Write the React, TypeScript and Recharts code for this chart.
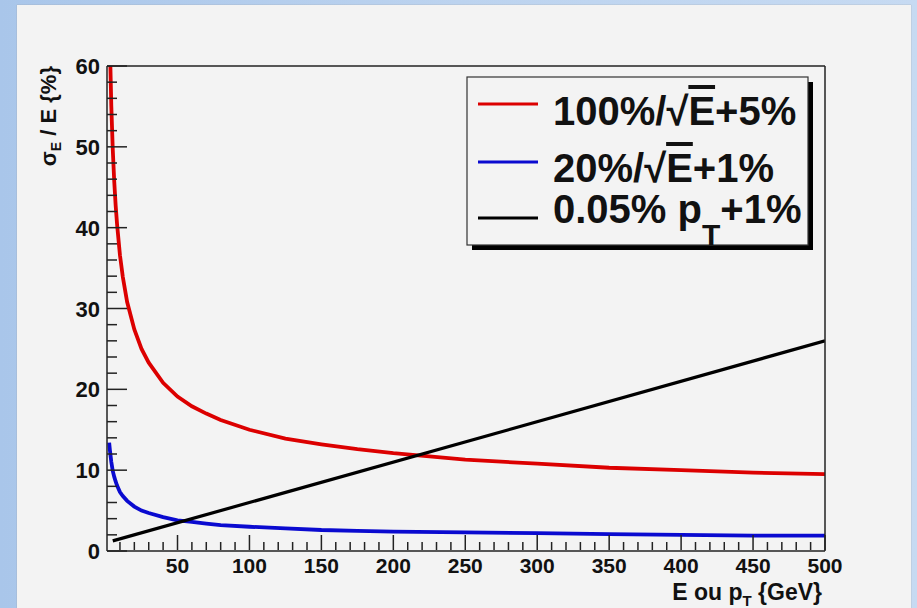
import React from "react";
import { LineChart, Line, XAxis, YAxis } from "recharts";

const energies = [2.5, 3, 4, 5, 6, 7, 8, 10, 12, 15, 20, 25, 30, 40, 50, 60, 70, 80, 100, 125, 150, 175, 200, 250, 300, 350, 400, 450, 500];
const caloHadValues = [68.2, 62.7, 55, 49.7, 45.8, 42.8, 40.4, 36.6, 33.9, 30.8, 27.4, 25, 23.3, 20.8, 19.1, 17.9, 17.0, 16.2, 15, 13.9, 13.2, 12.6, 12.1, 11.3, 10.8, 10.3, 10.0, 9.7, 9.5];
const caloEmValues = [13.4, 12.5, 11, 9.9, 9.2, 8.6, 8.1, 7.3, 6.8, 6.2, 5.5, 5, 4.7, 4.2, 3.8, 3.6, 3.4, 3.2, 3.0, 2.8, 2.6, 2.5, 2.4, 2.3, 2.2, 2.1, 2.0, 1.9, 1.9];

// tracker: straight line, read at both ends
const trackerMomenta = [5, 500];
const trackerValues = [1.25, 26];

const xTicks = [10, 20, 30, 40, 50, 60, 70, 80, 90, 100, 110, 120, 130, 140, 150, 160, 170, 180, 190, 200, 210, 220, 230, 240, 250, 260, 270, 280, 290, 300, 310, 320, 330, 340, 350, 360, 370, 380, 390, 400, 410, 420, 430, 440, 450, 460, 470, 480, 490, 500];
const yTicks = [0, 2, 4, 6, 8, 10, 12, 14, 16, 18, 20, 22, 24, 26, 28, 30, 32, 34, 36, 38, 40, 42, 44, 46, 48, 50, 52, 54, 56, 58, 60];

const FONT = "'Liberation Sans', Arial, Helvetica, sans-serif";
const AXIS_COLOR = "#222";

const series = [
  { id: "had", color: "#dc0000", width: 3.8, data: energies.map((e, i) => ({ e, v: caloHadValues[i] })) },
  { id: "em", color: "#0a0ad0", width: 3.8, data: energies.map((e, i) => ({ e, v: caloEmValues[i] })) },
  { id: "trk", color: "#000000", width: 3.2, data: trackerMomenta.map((e, i) => ({ e, v: trackerValues[i] })) },
];

function XTick(props: any) {
  const { x, payload } = props;
  const y = props.y - 1;
  const major = payload.value % 50 === 0;
  return (
    <g>
      <line x1={x} y1={y} x2={x} y2={y - (major ? 15 : 8)} stroke={AXIS_COLOR} strokeWidth={1.5} />
      {major && (
        <text x={x} y={y + 23} textAnchor="middle" fontFamily={FONT} fontWeight="bold" fontSize={21} fill="#111">
          {payload.value}
        </text>
      )}
    </g>
  );
}

function YTick(props: any) {
  const { x, y, payload } = props;
  const major = payload.value % 10 === 0;
  return (
    <g>
      <line x1={x} y1={y} x2={x + (major ? 20 : 10)} y2={y} stroke={AXIS_COLOR} strokeWidth={1.5} />
      {major && (
        <text x={x - 7} y={y + 8} textAnchor="end" fontFamily={FONT} fontWeight="bold" fontSize={22} fill="#111">
          {payload.value}
        </text>
      )}
    </g>
  );
}

function Overlay() {
  const t = { fontFamily: FONT, fontWeight: "bold" as const, fill: "#111" };
  return (
    <svg width={917} height={608} style={{ position: "absolute", left: 0, top: 0, pointerEvents: "none" }}>
      {/* y title */}
      <text transform="translate(56,66) rotate(-90)" textAnchor="end" fontSize={22} {...t}>
        σ<tspan fontSize={14} dy={5}>E</tspan>
        <tspan dy={-5}> / E {"{%}"}</tspan>
      </text>
      {/* x title */}
      <text x={822} y={600} textAnchor="end" fontSize={23} {...t}>
        E ou p<tspan fontSize={15} dy={6}>T</tspan>
        <tspan dy={-6}> {"{GeV}"}</tspan>
      </text>
      {/* legend */}
      <rect x={472} y={82} width={341} height={168} fill="#000" />
      <rect x={467} y={77} width={341} height={168} fill="#f3f3f3" stroke="#333" strokeWidth={1.2} />
      <line x1={478} x2={538} y1={104} y2={104} stroke={series[0].color} strokeWidth={3} />
      <line x1={478} x2={538} y1={162} y2={162} stroke={series[1].color} strokeWidth={3} />
      <line x1={478} x2={538} y1={218} y2={218} stroke={series[2].color} strokeWidth={3} />
      <text x={553} y={125} fontSize={40} {...t}>
        100%/√<tspan style={{ textDecoration: "overline" }}>E</tspan>+5%
      </text>
      <text x={553} y={182} fontSize={40} {...t}>
        20%/√<tspan style={{ textDecoration: "overline" }}>E</tspan>+1%
      </text>
      <text x={553} y={223} fontSize={40} {...t}>
        0.05% p<tspan fontSize={30} dy={22}>T</tspan>
        <tspan dy={-22}>+1%</tspan>
      </text>
    </svg>
  );
}

export default function App() {
  return (
    <div
      style={{
        position: "fixed",
        left: 0,
        top: 0,
        width: 917,
        height: 608,
        overflow: "hidden",
        background: "linear-gradient(90deg, #a9c6ea 0%, #bcd3ef 50%, #c6daf2 100%)",
      }}
    >
      <div style={{ position: "absolute", left: 17, top: 5, width: 894, height: 603, background: "#f3f3f3", boxShadow: "0 0 1px #999" }} />
      <div style={{ position: "absolute", left: 0, top: 0 }}>
        <LineChart width={917} height={608} margin={{ top: 65, left: 106, right: 91, bottom: 56 }}>
          <XAxis
            dataKey="e"
            type="number"
            domain={[1, 500]}
            allowDataOverflow
            ticks={xTicks}
            interval={0}
            height={1}
            tickSize={0}
            tickMargin={0}
            tickLine={false}
            tick={<XTick />}
            axisLine={{ stroke: AXIS_COLOR, strokeWidth: 1.5 }}
          />
          <XAxis xAxisId="top" orientation="top" type="number" domain={[1, 500]} height={1} tick={false} tickLine={false} axisLine={{ stroke: AXIS_COLOR, strokeWidth: 1.5 }} />
          <YAxis
            type="number"
            domain={[0, 60]}
            allowDataOverflow
            ticks={yTicks}
            interval={0}
            width={1}
            tickSize={0}
            tickMargin={0}
            tickLine={false}
            tick={<YTick />}
            axisLine={{ stroke: AXIS_COLOR, strokeWidth: 1.5 }}
          />
          <YAxis yAxisId="right" orientation="right" type="number" domain={[0, 60]} width={1} tick={false} tickLine={false} axisLine={{ stroke: AXIS_COLOR, strokeWidth: 1.5 }} />
          {series.map((s) => (
            <Line
              key={s.id}
              data={s.data}
              dataKey="v"
              type="linear"
              stroke={s.color}
              strokeWidth={s.width}
              dot={false}
              isAnimationActive={false}
            />
          ))}
        </LineChart>
      </div>
      <Overlay />
    </div>
  );
}
